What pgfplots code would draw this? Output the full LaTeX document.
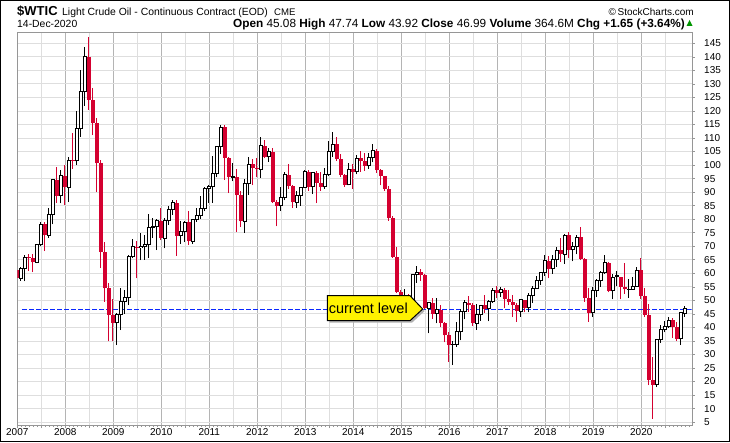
\documentclass[border=0pt]{standalone}
\usepackage{fontspec}
\setmainfont{Liberation Sans}
\usepackage{pgfplots}
\usepackage{pgfplotstable}
\pgfplotsset{compat=1.18}
\definecolor{cred}{RGB}{212,0,48}
\definecolor{gridl}{RGB}{222,222,222}
\definecolor{gridd}{RGB}{180,180,180}
\definecolor{axisc}{RGB}{150,150,150}
\definecolor{cgreen}{RGB}{0,150,0}
\definecolor{cblue}{RGB}{10,40,255}

% i = month index (0 = Jan 2007), o h l c, k: 1 hollow black, 2 filled red, 3 filled black
\pgfplotstableread{
i o h l c k
0 61.05 61.9 50.5 58.14 2
1 58.14 62.4 57.2 61.79 1
2 61.79 66.7 57.0 65.87 1
3 65.87 67.0 61.0 65.71 2
4 65.71 67.1 60.4 64.01 2
5 64.01 71.0 63.8 70.68 1
6 70.68 78.8 70.0 78.21 1
7 78.21 78.8 68.2 74.04 2
8 74.04 84.1 73.0 81.66 1
9 81.66 94.7 78.1 94.53 1
10 94.53 99.3 86.0 88.71 2
11 88.71 98.0 85.8 95.98 1
12 95.98 100.1 85.2 91.75 2
13 91.75 103.1 86.3 101.84 1
14 101.84 111.8 98.7 101.58 2
15 101.58 119.9 100.0 113.46 1
16 113.46 135.1 110.5 127.35 1
17 127.35 143.7 122.0 140.00 1
18 140.00 147.3 120.4 124.08 2
19 124.08 128.6 111.1 115.46 2
20 115.46 117.5 90.1 100.64 2
21 100.64 102.0 61.9 67.81 2
22 67.81 71.5 49.5 54.43 2
23 54.43 56.5 34.8 44.60 2
24 44.60 50.4 34.8 41.68 2
25 41.68 45.3 33.5 44.76 1
26 44.76 54.7 39.0 49.66 1
27 49.66 53.9 45.1 51.12 1
28 51.12 66.7 48.3 66.31 1
29 66.31 72.7 65.5 69.89 1
30 69.89 72.0 58.1 69.45 2
31 69.45 74.8 64.9 69.96 1
32 69.96 74.0 65.0 70.61 1
33 70.61 81.9 65.8 77.00 1
34 77.00 80.3 73.0 77.28 1
35 77.28 80.0 68.6 79.36 1
36 79.36 84.0 72.3 72.89 2
37 72.89 80.5 69.2 79.66 1
38 79.66 85.0 78.0 83.76 1
39 83.76 87.1 81.7 86.15 1
40 86.15 87.1 66.5 73.97 2
41 73.97 79.3 71.0 75.63 1
42 75.63 79.5 71.5 78.95 1
43 78.95 83.0 70.5 71.92 2
44 71.92 80.0 70.8 79.97 1
45 79.97 84.0 79.0 81.43 1
46 81.43 88.6 80.0 84.11 1
47 84.11 92.0 83.0 91.38 1
48 91.38 92.6 85.9 92.19 1
49 92.19 103.4 86.0 96.97 1
50 96.97 107.0 95.5 106.72 1
51 106.72 114.8 104.0 113.93 1
52 113.93 114.9 94.5 102.70 2
53 102.70 103.0 89.6 95.42 2
54 95.42 100.6 94.0 95.70 1
55 95.70 98.5 75.4 88.81 2
56 88.81 90.4 77.1 79.20 2
57 79.20 94.7 75.0 93.19 1
58 93.19 103.1 89.0 100.36 1
59 100.36 102.4 92.5 98.83 2
60 98.83 102.5 95.5 98.48 2
61 98.48 110.5 95.4 107.07 1
62 107.07 109.3 102.5 103.02 2
63 103.02 106.3 101.3 104.87 1
64 104.87 106.2 86.0 86.53 2
65 86.53 87.0 77.3 84.96 2
66 84.96 92.0 83.0 88.06 1
67 88.06 97.5 87.0 96.47 1
68 96.47 100.4 91.0 92.19 2
69 92.19 92.8 84.1 86.24 2
70 86.24 90.4 84.1 88.91 1
71 88.91 91.9 85.0 91.82 1
72 91.82 98.2 91.5 97.49 1
73 97.49 98.2 90.6 92.05 2
74 92.05 97.6 89.3 97.23 1
75 97.23 97.8 85.9 93.46 2
76 93.46 97.3 90.6 91.97 2
77 91.97 99.0 91.3 96.56 1
78 96.56 108.9 95.8 105.03 1
79 105.03 112.2 103.0 107.65 1
80 107.65 110.5 101.5 102.33 2
81 102.33 104.1 95.5 96.38 2
82 96.38 96.6 92.0 92.72 2
83 92.72 100.7 92.5 98.42 1
84 98.42 100.4 91.2 97.49 2
85 97.49 103.8 96.6 102.59 1
86 102.59 105.3 97.6 101.58 2
87 101.58 104.5 97.9 99.74 2
88 99.74 104.5 98.6 102.71 1
89 102.71 107.8 101.0 105.37 1
90 105.37 105.8 97.2 98.17 2
91 98.17 98.7 92.5 95.96 2
92 95.96 96.0 90.4 91.16 2
93 91.16 92.2 79.4 80.54 2
94 80.54 81.0 65.7 66.15 2
95 66.15 69.9 52.7 53.27 2
96 53.27 54.0 44.2 48.24 2
97 48.24 54.2 43.6 49.76 1
98 49.76 52.5 42.0 47.60 2
99 47.60 59.9 47.0 59.63 1
100 59.63 62.7 56.5 60.30 1
101 60.30 61.6 57.2 59.47 2
102 59.47 59.9 46.7 47.12 2
103 47.12 49.3 37.8 49.20 1
104 49.20 50.7 43.2 45.09 2
105 45.09 50.7 41.5 46.59 1
106 46.59 48.4 40.0 41.65 2
107 41.65 42.0 34.5 37.04 2
108 37.04 38.4 27.3 33.62 2
109 33.62 34.8 26.1 33.75 1
110 33.75 41.9 32.8 38.34 1
111 38.34 46.8 35.2 45.92 1
112 45.92 50.2 43.0 49.10 1
113 49.10 51.7 45.8 48.33 2
114 48.33 49.0 40.6 41.60 2
115 41.60 48.8 39.2 44.70 1
116 44.70 48.3 42.5 48.24 1
117 48.24 52.0 45.5 46.86 2
118 46.86 50.2 42.2 49.44 1
119 49.44 54.5 49.1 53.72 1
120 53.72 55.2 50.7 52.81 2
121 52.81 54.9 51.2 54.01 1
122 54.01 54.7 47.1 50.60 2
123 50.60 53.8 48.2 49.33 2
124 49.33 52.0 43.8 48.32 2
125 48.32 48.9 42.1 46.04 2
126 46.04 50.4 44.0 50.17 1
127 50.17 50.2 45.6 47.23 2
128 47.23 52.9 45.6 51.67 1
129 51.67 55.2 49.1 54.38 1
130 54.38 59.0 54.2 57.40 1
131 57.40 60.5 55.8 60.42 1
132 60.42 66.7 59.1 64.73 1
133 64.73 66.3 58.1 61.64 2
134 61.64 66.6 59.9 64.94 1
135 64.94 69.6 62.3 68.57 1
136 68.57 72.9 64.2 67.04 2
137 67.04 74.5 63.6 74.15 1
138 74.15 75.3 65.5 68.76 2
139 68.76 71.4 64.4 69.80 1
140 69.80 74.0 67.0 73.25 1
141 73.25 77.2 64.9 65.31 2
142 65.31 65.6 49.4 50.93 2
143 50.93 54.6 42.1 45.41 2
144 45.41 55.1 44.0 53.79 1
145 53.79 57.8 51.2 57.22 1
146 57.22 60.7 55.1 60.14 1
147 60.14 66.8 59.9 63.91 1
148 63.91 64.0 53.0 53.50 2
149 53.50 59.9 50.4 58.47 1
150 59.40 60.9 55.2 58.58 3
151 58.58 58.8 50.4 55.10 2
152 55.10 63.7 52.5 54.07 2
153 54.07 57.9 50.9 54.18 1
154 54.18 58.7 54.0 55.17 1
155 55.17 62.2 55.0 61.06 1
156 61.06 65.5 50.6 51.56 2
157 51.56 54.4 44.0 44.76 2
158 44.76 48.7 18.7 20.48 2
159 20.48 29.2 6.2 18.84 2
160 18.84 35.5 17.9 35.49 1
161 35.49 41.0 34.4 39.27 1
162 39.27 42.5 38.2 40.27 1
163 40.27 43.8 39.9 42.61 1
164 42.61 43.3 36.1 40.22 2
165 40.22 41.9 34.9 35.79 2
166 35.79 45.8 33.5 45.34 1
167 45.08 47.74 43.92 46.99 1
}\data

\pgfplotsset{
  wick/.style={draw=none, mark=none, forget plot,
    error bars/y dir=plus, error bars/y explicit, error bars/error mark=none,
    error bars/error bar style={solid, line width=1pt, draw=#1}},
  body/.style 2 args={draw=none, mark=none, forget plot,
    error bars/y dir=plus, error bars/y explicit, error bars/error mark=none,
    error bars/error bar style={solid, line width=#2, draw=#1}},
}

\begin{document}
\begin{tikzpicture}
\useasboundingbox (0pt,0pt) rectangle (730pt,442pt);
\fill[white] (0pt,0pt) rectangle (730pt,442pt);

\begin{axis}[
  at={(17.3pt,17pt)}, anchor=south west, scale only axis,
  width=674.4pt, height=392.7pt,
  xmin=0.125, xmax=168.725, ymin=3.94, ymax=149.07,
  axis line style={axisc},
  xtick={0.125,12.125,...,156.125},
  xticklabels={2007,2008,2009,2010,2011,2012,2013,2014,2015,2016,2017,2018,2019,2020},
  minor xtick={6.125,18.125,...,162.125},
  extra x ticks={1.125,2.125,...,168.125},
  extra x tick labels={},
  extra x tick style={xmajorgrids=false, major tick length=2pt},
  ytick={5,10,...,145},
  xtick pos=bottom, ytick pos=right,
  yticklabel pos=right,
  tick align=outside,
  major tick length=3pt, minor tick length=3pt,
  tick style={axisc, line width=0.6pt},
  xmajorgrids, xminorgrids, ymajorgrids,
  major x grid style={gridd, line width=0.8pt},
  minor x grid style={gridl, line width=0.8pt},
  major y grid style={gridl, line width=0.8pt},
  /pgf/number format/assume math mode=true,
  tick label style={font=\fontsize{10}{12}\selectfont, black},
  yticklabel style={anchor=west, xshift=6pt},
  xticklabel style={yshift=3pt},
]
% current level line
\addplot[/tikz/draw=cblue, /tikz/color=cblue, mark=none, line width=1.5pt,
         dash pattern=on 4.5pt off 2.5pt, forget plot]
  coordinates {(1.3,46.7) (168.725,46.7)};
% wicks
\addplot[restrict expr to domain={\thisrow{k}}{1:1}, wick=black]
  table[x=i, y=l, y error plus expr=\thisrow{h}-\thisrow{l}] {\data};
\addplot[restrict expr to domain={\thisrow{k}}{3:3}, wick=black]
  table[x=i, y=l, y error plus expr=\thisrow{h}-\thisrow{l}] {\data};
\addplot[restrict expr to domain={\thisrow{k}}{2:2}, wick=cred]
  table[x=i, y=l, y error plus expr=\thisrow{h}-\thisrow{l}] {\data};
% hollow black bodies
\addplot[restrict expr to domain={\thisrow{k}}{1:1}, body={black}{3.8pt}]
  table[x=i, y expr={min(\thisrow{o},\thisrow{c})-0.185},
        y error plus expr={abs(\thisrow{c}-\thisrow{o})+0.37}] {\data};
\addplot[restrict expr to domain={\thisrow{k}}{1:1}, body={white}{1.8pt}]
  table[x=i, y expr={min(\thisrow{o},\thisrow{c})+0.185},
        y error plus expr={max(abs(\thisrow{c}-\thisrow{o})-0.37,0)}] {\data};
% filled red bodies
\addplot[restrict expr to domain={\thisrow{k}}{2:2}, body={cred}{3.8pt}]
  table[x=i, y expr={min(\thisrow{o},\thisrow{c})},
        y error plus expr={max(abs(\thisrow{c}-\thisrow{o}),0.4)}] {\data};
% filled black bodies
\addplot[restrict expr to domain={\thisrow{k}}{3:3}, body={black}{3.8pt}]
  table[x=i, y expr={min(\thisrow{o},\thisrow{c})},
        y error plus expr={max(abs(\thisrow{c}-\thisrow{o}),0.4)}] {\data};
\end{axis}

% callout
\fill[gray!60] (329.3pt,144.3pt) -- (412pt,144.3pt) -- (424.7pt,131pt) -- (412pt,119.3pt) -- (329.3pt,119.3pt) -- cycle;
\filldraw[fill=yellow, draw=black, line width=1pt]
  (327.3pt,146.3pt) -- (410pt,146.3pt) -- (422.7pt,133pt) -- (410pt,121.3pt) -- (327.3pt,121.3pt) -- cycle;
\node[anchor=center, inner sep=0pt] at (368.3pt,133.5pt)
  {\fontsize{14.5}{16}\selectfont current level};

% header
\node[anchor=base west, inner sep=0pt] at (17pt,426pt)
  {\fontsize{13}{15}\selectfont\bfseries \$WTIC};
\node[anchor=base west, inner sep=0pt] at (62pt,426pt)
  {\fontsize{10.4}{12}\selectfont Light Crude Oil - Continuous Contract (EOD)};
\node[anchor=base west, inner sep=0pt] at (274pt,426pt)
  {\fontsize{9.6}{11}\selectfont CME};
\node[anchor=base east, inner sep=0pt] at (694pt,426pt)
  {\fontsize{10}{12}\selectfont \textcopyright\,StockCharts.com};
\node[anchor=base west, inner sep=0pt] at (17pt,414.7pt)
  {\fontsize{10.4}{12}\selectfont 14-Dec-2020};
\node[anchor=base east, inner sep=0pt] at (685pt,414.7pt)
  {\fontsize{11.8}{13}\selectfont \textbf{Open} 45.08 \textbf{High} 47.74 \textbf{Low} 43.92 \textbf{Close} 46.99 \textbf{Volume} 364.6M \textbf{Chg +1.65 (+3.64\%)}};
\fill[cgreen] (686.5pt,416pt) -- (692.5pt,416pt) -- (689.5pt,422pt) -- cycle;

% outer border
\draw[black, line width=1pt] (0.5pt,0.5pt) rectangle (729.5pt,441.5pt);
\end{tikzpicture}
\end{document}
